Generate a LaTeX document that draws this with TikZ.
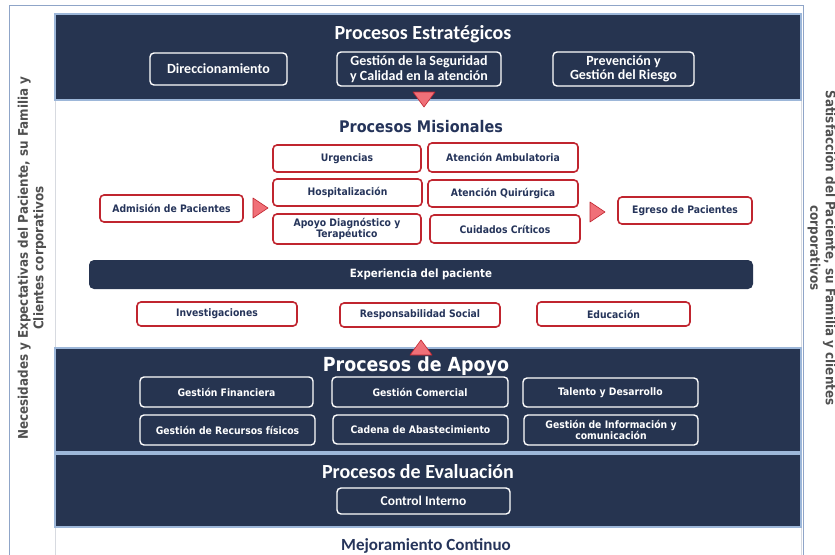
\documentclass[tikz,border=0pt]{standalone}
\usepackage{fontspec}
\setmainfont{DejaVu Sans}
\newfontfamily\calb{Carlito}
\newfontfamily\dvc{DejaVu Sans Condensed}
\usetikzlibrary{calc}
\definecolor{navy}{RGB}{38,52,80}
\definecolor{tnavy}{RGB}{37,52,90}
\definecolor{redc}{RGB}{192,37,47}
\definecolor{trif}{RGB}{240,112,120}
\definecolor{lline}{RGB}{157,183,217}
\definecolor{framec}{RGB}{143,165,200}
\definecolor{sideg}{RGB}{80,80,80}
\definecolor{graybd}{RGB}{215,218,224}
\tikzset{
  panel/.style={fill=navy, draw=lline, line width=1.2pt},
  wbox/.style={draw=white, line width=1.4pt, rounded corners=4pt, fill=navy, text=white, align=center, inner sep=0pt},
  rbox/.style={draw=redc, line width=1.6pt, rounded corners=4pt, fill=white, text=tnavy, align=center, inner sep=0pt},
  sfont/.style={font=\calb\bfseries\fontsize{14}{14.5}\selectfont},
  mfont/.style={font=\dvc\bfseries\fontsize{10.3}{11.5}\selectfont},
  ptitle/.style={font=\calb\bfseries\fontsize{20}{22}\selectfont, text=white},
  tri/.style={fill=trif, draw=redc, line width=0.6pt, line join=round},
  side/.style={font=\dvc\bfseries\fontsize{13.3}{15.5}\selectfont, text=sideg, align=center}
}
\begin{document}
\begin{tikzpicture}[x=1pt,y=-1pt]
\useasboundingbox (0,0) rectangle (835,554);
% outer frame
\draw[framec, line width=1pt] (9,556) -- (9,5) -- (803,5) -- (803,556);
% white middle areas
\draw[graybd, fill=white, line width=0.8pt] (55,100) rectangle (801,348);
\draw[graybd, fill=white, line width=0.8pt] (55,527) rectangle (801,556);
% panels
\draw[panel] (55,14) rectangle (801,100);
\draw[panel] (55,348) rectangle (801,452);
\draw[panel] (55,454) rectangle (801,527);

% side labels
\node[side, rotate=90] (lside) at (32,258) {Necesidades y Expectativas del Paciente, su Familia y\\Clientes corporativos};
\node[side, rotate=-90] (rside) at (822,248) {Satisfacción del Paciente, su Familia y clientes\\corporativos};

% Estrategicos
\node[ptitle] (tEst) at (423,34) {Procesos Estratégicos};
\node[wbox, sfont, minimum width=137pt, minimum height=32pt] (dir) at (218.5,69) {Direccionamiento};
\node[wbox, sfont, minimum width=164pt, minimum height=34pt] (seg) at (419,69) {Gestión de la Seguridad\\y Calidad en la atención};
\node[wbox, sfont, minimum width=141pt, minimum height=34pt] (prev) at (623.5,69) {Prevención y\\Gestión del Riesgo};
\coordinate (tdown) at (424,100);
\draw[tri] ($(tdown)+(-11,-8)$) -- ($(tdown)+(11,-8)$) -- ($(tdown)+(0,7)$) -- cycle;

% Misionales
\node[font=\dvc\bfseries\fontsize{16}{18}\selectfont, text=tnavy] (tMis) at (421,127) {Procesos Misionales};
\node[rbox, mfont, minimum width=143pt, minimum height=27pt] (adm) at (171.5,208.5) {Admisión de Pacientes};
\node[rbox, mfont, minimum width=148pt, minimum height=27pt] (urg) at (347,158.5) {Urgencias};
\node[rbox, mfont, minimum width=149pt, minimum height=27pt] (hos) at (347.5,192.5) {Hospitalización};
\node[rbox, mfont, minimum width=148pt, minimum height=30pt, font=\dvc\bfseries\fontsize{10.3}{11}\selectfont] (apo) at (347,229) {Apoyo Diagnóstico y\\Terapéutico};
\node[rbox, mfont, minimum width=150pt, minimum height=29pt] (amb) at (503,157.5) {Atención Ambulatoria};
\node[rbox, mfont, minimum width=150pt, minimum height=27pt] (qui) at (503,193.5) {Atención Quirúrgica};
\node[rbox, mfont, minimum width=150pt, minimum height=28pt] (cui) at (505,229) {Cuidados Críticos};
\node[rbox, mfont, minimum width=134pt, minimum height=27pt] (egr) at (685,210.5) {Egreso de Pacientes};
\coordinate (ta) at (253,208);
\draw[tri] ($(ta)+(0,-10)$) -- ($(ta)+(15,0)$) -- ($(ta)+(0,10)$) -- cycle;
\coordinate (tb) at (590,212);
\draw[tri] ($(tb)+(0,-10)$) -- ($(tb)+(15,0)$) -- ($(tb)+(0,10)$) -- cycle;

\node[fill=navy, rounded corners=5pt, minimum width=664pt, minimum height=29pt, inner sep=0pt, text=white, font=\dvc\bfseries\fontsize{11.4}{13}\selectfont] (exp) at (421,274.5) {Experiencia del paciente};

\node[rbox, mfont, minimum width=160pt, minimum height=24pt] (inv) at (217,314) {Investigaciones};
\node[rbox, mfont, minimum width=160pt, minimum height=24pt] (rsoc) at (420,315) {Responsabilidad Social};
\node[rbox, mfont, minimum width=153pt, minimum height=24pt] (edu) at (613.5,314) {Educación};
\coordinate (tup) at (421,348);
\draw[tri] ($(tup)+(-11,7)$) -- ($(tup)+(11,7)$) -- ($(tup)+(0,-8)$) -- cycle;

% Apoyo
\node[font=\dvc\bfseries\fontsize{19.4}{21}\selectfont, text=white] (tApo) at (416,366) {Procesos de Apoyo};
\node[wbox, mfont, minimum width=173pt, minimum height=30pt] (fin) at (226.5,392) {Gestión Financiera};
\node[wbox, mfont, minimum width=176pt, minimum height=30pt] (com) at (420,392) {Gestión Comercial};
\node[wbox, mfont, minimum width=175pt, minimum height=29pt] (tal) at (610.5,392.5) {Talento y Desarrollo};
\node[wbox, mfont, minimum width=175pt, minimum height=30pt] (rec) at (227.5,430) {Gestión de Recursos físicos};
\node[wbox, mfont, minimum width=175pt, minimum height=29pt] (cad) at (420.5,429.5) {Cadena de Abastecimiento};
\node[wbox, mfont, minimum width=174pt, minimum height=30pt, font=\dvc\bfseries\fontsize{10.3}{11}\selectfont] (inf) at (611,430) {Gestión de Información y\\comunicación};

% Evaluacion
\node[ptitle] (tEva) at (418,472) {Procesos de Evaluación};
\node[wbox, font=\calb\bfseries\fontsize{13.5}{15}\selectfont, minimum width=173pt, minimum height=26pt] (ctrl) at (423.5,501) {Control Interno};

\node[font=\calb\bfseries\fontsize{17}{19}\selectfont, text=tnavy] (mej) at (426,546) {Mejoramiento Continuo};
\end{tikzpicture}
\end{document}
